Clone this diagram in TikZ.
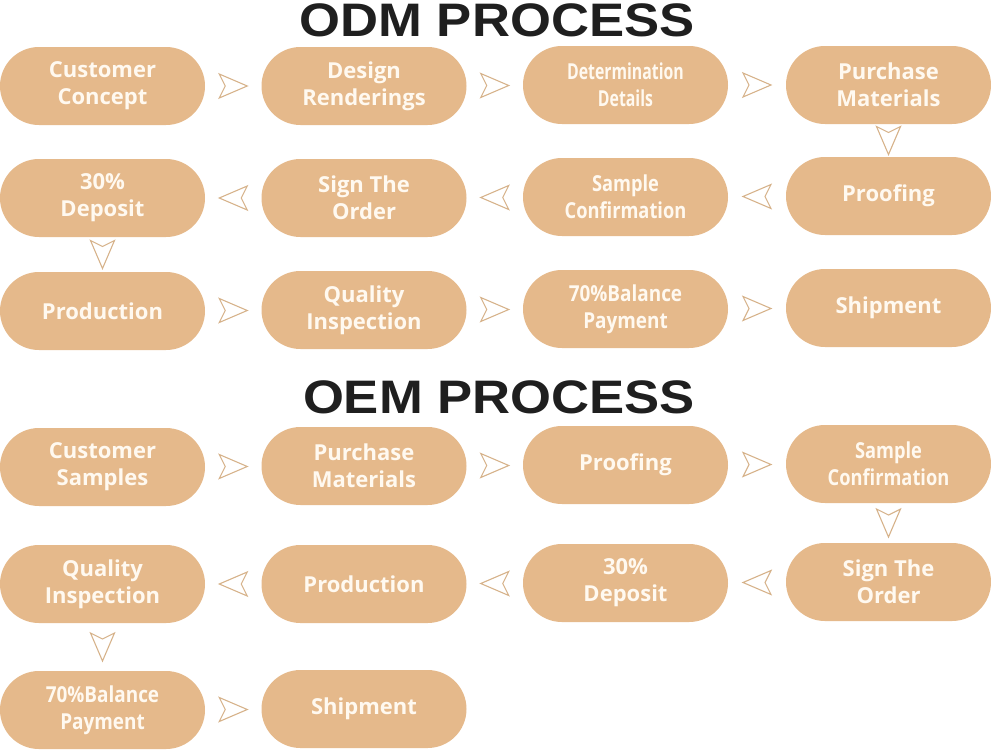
\documentclass[tikz,border=0pt]{standalone}
\usepackage{fontspec}
\usepackage{graphicx}
\newfontfamily\boxfont{Open Sans}
\newfontfamily\titlefont{Liberation Sans}
\definecolor{boxtan}{HTML}{E5B98B}
\definecolor{arrowtan}{HTML}{D6B28A}
\definecolor{textcream}{HTML}{FFF9F0}
\newcommand{\sq}[2]{\scalebox{#1}[1]{#2}}
\newcommand{\flowarrow}[3]{\path (#1) -- (#2) coordinate[pos=0.5] (tmpmid); \pic[rotate=#3] at (tmpmid) {chev};}
\tikzset{
  stepbox/.style={fill=boxtan, rounded corners=38.9pt, minimum width=205pt, minimum height=78pt,
    inner sep=0pt, text=textcream, align=center,
    font=\boxfont\bfseries\fontsize{22}{27}\selectfont},
  titletext/.style={font=\titlefont\bfseries\fontsize{47}{50}\selectfont, text=black!88, inner sep=0pt},
  chev/.pic={\draw[arrowtan, line width=1.1pt, line join=miter] (14,0) -- (-14,12) -- (-8,0) -- (-14,-12) -- cycle;}
}
\begin{document}
\begin{tikzpicture}[x=1pt,y=-1pt]
\useasboundingbox (0,0) rectangle (991,750);
% titles
\node[titletext] (odm) at (497,20) {\sq{1.12}{ODM PROCESS}};
\node[titletext] (oem) at (499,397) {\sq{1.12}{OEM PROCESS}};
% ODM row 1
\node[stepbox] (a1) at (102.5,86) {Customer\\Concept};
\node[stepbox] (a2) at (364,86) {Design\\Renderings};
\node[stepbox] (a3) at (625.5,85) {\sq{0.72}{Determination}\\\sq{0.72}{Details}};
\node[stepbox] (a4) at (888.5,85) {Purchase\\Materials};
% ODM row 2
\node[stepbox] (b1) at (102.5,198) {30\%\\Deposit};
\node[stepbox] (b2) at (364,198) {Sign The\\Order};
\node[stepbox] (b3) at (625.5,197) {\sq{0.83}{Sample}\\\sq{0.83}{Confirmation}};
\node[stepbox] (b4) at (888.5,196) {Proofing};
% ODM row 3
\node[stepbox] (c1) at (102.5,311) {Production};
\node[stepbox] (c2) at (364,310) {Quality\\Inspection};
\node[stepbox] (c3) at (625.5,309) {\sq{0.86}{70\%Balance}\\\sq{0.86}{Payment}};
\node[stepbox] (c4) at (888.5,308) {Shipment};
% OEM row 1
\node[stepbox] (d1) at (102.5,467) {Customer\\Samples};
\node[stepbox] (d2) at (364,466) {Purchase\\Materials};
\node[stepbox] (d3) at (625.5,465) {Proofing};
\node[stepbox] (d4) at (888.5,464) {\sq{0.83}{Sample}\\\sq{0.83}{Confirmation}};
% OEM row 2
\node[stepbox] (e1) at (102.5,584) {Quality\\Inspection};
\node[stepbox] (e2) at (364,584) {Production};
\node[stepbox] (e3) at (625.5,583) {30\%\\Deposit};
\node[stepbox] (e4) at (888.5,582) {Sign The\\Order};
% OEM row 3
\node[stepbox] (f1) at (102.5,710) {\sq{0.86}{70\%Balance}\\\sq{0.86}{Payment}};
\node[stepbox] (f2) at (364,709) {Shipment};
% ODM arrows
\flowarrow{a1.east}{a2.west}{0}
\flowarrow{a2.east}{a3.west}{0}
\flowarrow{a3.east}{a4.west}{0}
\flowarrow{a4.south}{b4.north}{-90}
\flowarrow{b4.west}{b3.east}{180}
\flowarrow{b3.west}{b2.east}{180}
\flowarrow{b2.west}{b1.east}{180}
\flowarrow{b1.south}{c1.north}{-90}
\flowarrow{c1.east}{c2.west}{0}
\flowarrow{c2.east}{c3.west}{0}
\flowarrow{c3.east}{c4.west}{0}
% OEM arrows
\flowarrow{d1.east}{d2.west}{0}
\flowarrow{d2.east}{d3.west}{0}
\flowarrow{d3.east}{d4.west}{0}
\flowarrow{d4.south}{e4.north}{-90}
\flowarrow{e4.west}{e3.east}{180}
\flowarrow{e3.west}{e2.east}{180}
\flowarrow{e2.west}{e1.east}{180}
\flowarrow{e1.south}{f1.north}{-90}
\flowarrow{f1.east}{f2.west}{0}
\end{tikzpicture}
\end{document}
